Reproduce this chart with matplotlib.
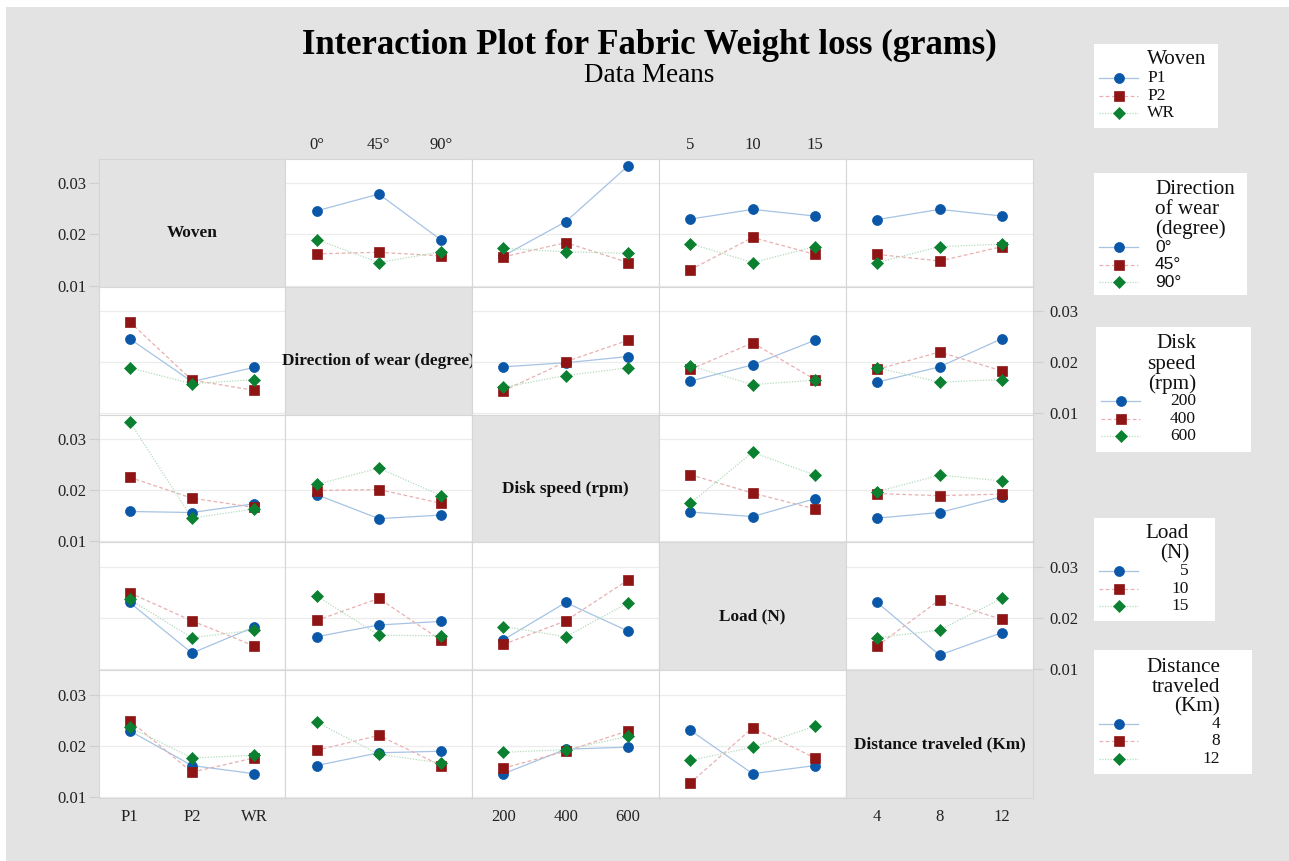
import matplotlib
matplotlib.use("Agg")
import matplotlib.pyplot as plt
from matplotlib.patches import Rectangle
import numpy as np

# ---------------------------------------------------------------- data
factor_names = ["Woven", "Direction of wear (degree)", "Disk speed (rpm)",
                "Load (N)", "Distance traveled (Km)"]
legend_titles = ["Woven", "Direction\nof wear\n(degree)", "Disk\nspeed\n(rpm)",
                 "Load\n(N)", "Distance\ntraveled\n(Km)"]

woven_levels = ["P1", "P2", "WR"]
direction_levels = ["0°", "45°", "90°"]
disk_levels = ["200", "400", "600"]
load_levels = ["5", "10", "15"]
distance_levels = ["4", "8", "12"]

# Cell means of fabric weight loss (g); rows = levels of the first factor,
# columns = levels of the second factor.
woven_direction = [[0.0246, 0.0279, 0.0189],
                   [0.0162, 0.0165, 0.0158],
                   [0.0190, 0.0145, 0.0166]]
woven_disk = [[0.0158, 0.0225, 0.0334],
              [0.0156, 0.0184, 0.0145],
              [0.0173, 0.0166, 0.0163]]
woven_load = [[0.0230, 0.0249, 0.0236],
              [0.0131, 0.0194, 0.0161],
              [0.0182, 0.0145, 0.0176]]
woven_distance = [[0.0229, 0.0249, 0.0236],
                  [0.0161, 0.0148, 0.0176],
                  [0.0145, 0.0176, 0.0181]]
direction_disk = [[0.0191, 0.0199, 0.0211],
                  [0.0144, 0.0201, 0.0243],
                  [0.0151, 0.0174, 0.0189]]
direction_load = [[0.0163, 0.0195, 0.0243],
                  [0.0186, 0.0238, 0.0166],
                  [0.0193, 0.0156, 0.0165]]
direction_distance = [[0.0161, 0.0191, 0.0246],
                      [0.0186, 0.0220, 0.0183],
                      [0.0189, 0.0161, 0.0166]]
disk_load = [[0.0157, 0.0148, 0.0183],
             [0.0230, 0.0194, 0.0163],
             [0.0174, 0.0274, 0.0229]]
disk_distance = [[0.0145, 0.0156, 0.0187],
                 [0.0193, 0.0189, 0.0192],
                 [0.0197, 0.0229, 0.0218]]
load_distance = [[0.0230, 0.0127, 0.0171],
                 [0.0145, 0.0235, 0.0197],
                 [0.0161, 0.0176, 0.0238]]

y_ticks = [0.01, 0.02, 0.03]

# ---------------------------------------------------------------- setup
levels = [woven_levels, direction_levels, disk_levels, load_levels, distance_levels]
pair_means = {
    (0, 1): woven_direction, (0, 2): woven_disk, (0, 3): woven_load,
    (0, 4): woven_distance, (1, 2): direction_disk, (1, 3): direction_load,
    (1, 4): direction_distance, (2, 3): disk_load, (2, 4): disk_distance,
    (3, 4): load_distance,
}


def cell_means(i, j):
    if i < j:
        return np.asarray(pair_means[(i, j)])
    return np.asarray(pair_means[(j, i)]).T


W, H = 1289, 861
SERIF = "Liberation Serif"
BG = "#e3e3e3"
GRID = "#ececec"
EDGE = "#d6d6d6"

series_styles = [
    dict(color="#0a57a8", marker="o", ms=7.2, ls="-"),
    dict(color="#8f1515", marker="s", ms=6.5, ls=(0, (3, 2))),
    dict(color="#0a8030", marker="D", ms=6.4, ls=(0, (1, 1.2))),
]
line_colors = ["#a6c3e4", "#e8b0b0", "#b5dcbd"]

fig = plt.figure(figsize=(W / 100, H / 100), dpi=100)
fig.patch.set_facecolor("white")
fig.patches.append(Rectangle((6 / W, 0), 1 - 6 / W, 1 - 7 / H,
                             transform=fig.transFigure, facecolor=BG,
                             edgecolor="none", zorder=-10))


def px_axes(x0, y0, w, h, **kw):
    return fig.add_axes([x0 / W, 1 - (y0 + h) / H, w / W, h / H], **kw)


# grid geometry (pixels)
GX0, GX1 = 98.5, 1033.0
GY0, GY1 = 159.0, 798.0
CW = (GX1 - GX0) / 5
RH = (GY1 - GY0) / 5
YLIM = (0.00975, 0.03476)

for i in range(5):
    for j in range(5):
        ax = px_axes(GX0 + j * CW, GY0 + i * RH, CW, RH)
        ax.set_xlim(0.5, 3.5)
        ax.set_ylim(*YLIM)
        for s in ax.spines.values():
            s.set_color(EDGE)
            s.set_linewidth(0.8)
        ax.tick_params(which="both", length=0, labelsize=12, colors="#222222",
                       labelbottom=False, labelleft=False)
        ax.set_xticks([1, 2, 3])
        ax.set_yticks(y_ticks)

        if i == j:
            ax.set_facecolor(BG)
            ax.text(0.5, 0.42, factor_names[i], transform=ax.transAxes,
                    ha="center", va="center", fontsize=12.4, fontweight="bold",
                    family=SERIF, color="#111111")
        else:
            ax.set_facecolor("white")
            for yv in y_ticks:
                ax.axhline(yv, color=GRID, lw=0.9, zorder=0)
            means = cell_means(i, j)
            xs = np.arange(1, 4)
            for k in range(3):
                st = series_styles[k]
                ax.plot(xs, means[k], ls=st["ls"], color=line_colors[k],
                        lw=0.9, zorder=2)
                ax.plot(xs, means[k], ls="none", marker=st["marker"],
                        ms=st["ms"], color=st["color"], mec=st["color"],
                        mew=0.5, zorder=3 + k)

        # axis labelling on the outer edges, alternating sides
        if j == 0 and i % 2 == 0:
            ax.tick_params(axis="y", left=True, labelleft=True, length=7,
                           color="#cfcfcf", pad=2)
        if j == 4 and i % 2 == 1:
            ax.yaxis.tick_right()
            ax.tick_params(axis="y", right=True, labelright=True, length=7,
                           color="#cfcfcf", pad=5, labelsize=12, colors="#222222")
        if i == 4 and j % 2 == 0:
            ax.set_xticklabels(levels[j])
            ax.tick_params(axis="x", bottom=True, labelbottom=True, length=0,
                           pad=8)
        if i == 0 and j % 2 == 1:
            ax.xaxis.tick_top()
            ax.set_xticklabels(levels[j])
            ax.tick_params(axis="x", top=True, labeltop=True, length=0, pad=4,
                           labelsize=12, colors="#222222")
        for lab in ax.get_xticklabels() + ax.get_yticklabels():
            lab.set_fontfamily(SERIF)

# ---------------------------------------------------------------- titles
fig.text(649 / W, 1 - 54 / H, "Interaction Plot for Fabric Weight loss (grams)",
         ha="center", va="baseline", fontsize=25, fontweight="bold", family=SERIF)
fig.text(649 / W, 1 - 82 / H, "Data Means", ha="center", va="baseline",
         fontsize=19.5, family=SERIF)


# ---------------------------------------------------------------- legends
def draw_legend(box, title, title_x, title_y0, title_ha, labels, label_x,
                label_ha, entry_y0, label_family=SERIF, label_size=12.5):
    x0, y0, w, h = box
    lax = px_axes(x0, y0, w, h)
    lax.set_xlim(0, w)
    lax.set_ylim(h, 0)
    lax.set_facecolor("white")
    lax.set_xticks([])
    lax.set_yticks([])
    for s in lax.spines.values():
        s.set_visible(False)
    for n, line in enumerate(title.split("\n")):
        lax.text(title_x, title_y0 + 20 * n, line, ha=title_ha, va="center",
                 fontsize=15.2, family=SERIF, color="#111111")
    for k, lab in enumerate(labels):
        yy = entry_y0 + 17.6 * k
        st = series_styles[k]
        lax.plot([5, 44], [yy, yy], ls=st["ls"], color=line_colors[k], lw=0.9)
        lax.plot([24.5], [yy], ls="none", marker=st["marker"], ms=st["ms"],
                 color=st["color"], mec=st["color"], mew=0.5)
        lax.text(label_x, yy, lab, ha=label_ha, va="center",
                 fontsize=label_size, family=label_family, color="#111111")


draw_legend((1094, 44, 124, 84), legend_titles[0], 53, 16, "left",
            woven_levels, 53, "left", 34)
draw_legend((1094, 173, 153, 122), legend_titles[1], 61, 16, "left",
            direction_levels, 61, "left", 74, label_family="Liberation Sans",
            label_size=12.5)
draw_legend((1096, 327, 155, 125), legend_titles[2], 100, 17, "right",
            disk_levels, 100, "right", 74)
draw_legend((1094, 518, 121, 103), legend_titles[3], 95, 16, "right",
            load_levels, 95, "right", 53)
draw_legend((1094, 650, 158, 124), legend_titles[4], 126, 17, "right",
            distance_levels, 126, "right", 73.5)

fig.savefig("out.png", dpi=100, facecolor=fig.get_facecolor())
